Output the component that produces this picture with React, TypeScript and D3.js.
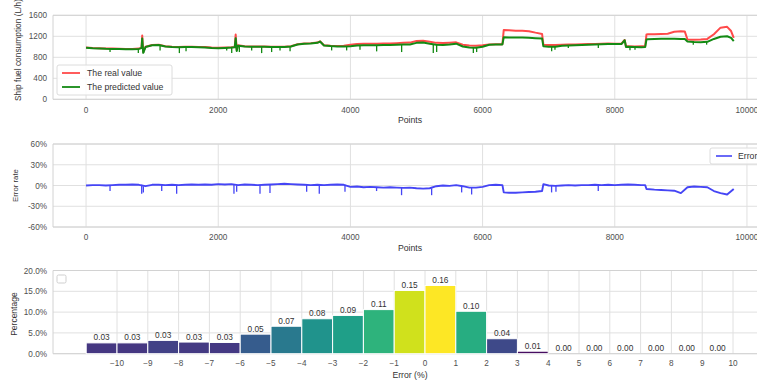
import React from 'react';
import * as d3 from 'd3';

const W = 757;
const H = 382;
const FONT = '"Liberation Sans", Arial, Helvetica, sans-serif';

// ---- Panel 1: ship fuel consumption (L/h) ----
const fuelIndex = [
  0, 100, 200, 300, 400, 500, 600, 700, 800, 840, 850, 865, 900,
  1000, 1100, 1200, 1300, 1400, 1500, 1600, 1700, 1800, 1900,
  2000, 2100, 2200, 2250, 2264, 2280, 2300, 2400, 2500, 2600, 2700, 2800, 2900,
  3000, 3100, 3200, 3300, 3400, 3500, 3540, 3600, 3700, 3800, 3900,
  4000, 4100, 4200, 4300, 4400, 4500, 4600, 4700, 4800, 4900,
  5000, 5100, 5200, 5300, 5400, 5500, 5600, 5700, 5800, 5900,
  6000, 6100, 6200, 6300, 6320, 6400, 6500, 6600, 6700, 6800, 6900, 6920,
  7000, 7100, 7200, 7300, 7400, 7500, 7600, 7700, 7800, 7900,
  8000, 8100, 8150, 8170, 8200, 8300, 8400, 8460, 8480, 8500, 8600, 8700, 8800, 8900,
  9000, 9060, 9100, 9200, 9300, 9400, 9500, 9600, 9700, 9760, 9800,
];
const realValue = [
  985, 975, 972, 968, 966, 962, 958, 960, 966, 985, 1215, 905, 1000,
  1035, 1040, 1010, 1000, 995, 1000, 1002, 998, 995, 985,
  980, 985, 990, 995, 1235, 940, 1030, 1010, 1005, 1008, 1005, 1000, 1002,
  1000, 1010, 1050, 1065, 1070, 1080, 1105, 1030, 1020, 1015, 1018,
  1040, 1055, 1060, 1060, 1058, 1065, 1062, 1070, 1075, 1080,
  1110, 1115, 1098, 1075, 1072, 1078, 1085, 1040, 1025, 1022,
  1030, 1045, 1048, 1050, 1320, 1315, 1305, 1308, 1298, 1270, 1245, 1040,
  1035, 1035, 1040, 1042, 1045, 1048, 1052, 1055, 1060, 1062,
  1060, 1058, 1130, 1005, 1010, 1008, 1010, 1012, 1235, 1238, 1240, 1245, 1250, 1285,
  1295, 1290, 1140, 1135, 1140, 1150, 1240, 1365, 1380, 1300, 1170,
];
const predictedValue = [
  980, 972, 968, 962, 960, 958, 952, 952, 960, 975, 1160, 885, 995,
  1030, 1035, 1005, 995, 990, 995, 997, 993, 988, 975,
  972, 978, 985, 990, 1165, 920, 1020, 1005, 1000, 1003, 1000, 995, 998,
  995, 1005, 1045, 1060, 1063, 1075, 1100, 1025, 1015, 1008, 1005,
  1010, 1025, 1028, 1030, 1028, 1035, 1032, 1038, 1042, 1045,
  1075, 1080, 1058, 1040, 1035, 1045, 1060, 1005, 985, 980,
  1000, 1040, 1042, 1045, 1180, 1178, 1175, 1176, 1172, 1165, 1160, 1010,
  1000, 1000, 1020, 1025, 1030, 1035, 1040, 1045, 1050, 1055,
  1055, 1052, 1125, 995, 1000, 995, 990, 995, 1140, 1145, 1150, 1152, 1155, 1152,
  1150, 1148, 1100, 1090, 1088, 1095, 1150, 1190, 1200, 1170, 1110,
];
// short downward dips of the predicted line
const predDipIndex = [363, 791, 882, 1120, 1412, 1513, 2128, 2204, 2320, 2506, 2657, 2808, 2935, 3087, 3716, 3943, 4145, 4397, 4775, 5254, 5305, 5860, 5910, 7045, 7095, 7297, 7751, 8230, 8306, 9188, 9390];
const predDipValue = [900, 880, 880, 931, 880, 913, 931, 880, 900, 931, 880, 900, 931, 913, 931, 931, 944, 913, 900, 880, 900, 880, 900, 913, 945, 977, 977, 932, 945, 1041, 1041];

// ---- Panel 2: error rate (%) ----
const errorIndex = [
  0, 100, 200, 300, 400, 500, 600, 700, 800, 900,
  1000, 1100, 1200, 1300, 1400, 1500, 1600, 1700, 1800, 1900,
  2000, 2100, 2200, 2300, 2400, 2500, 2600, 2700, 2800, 2900,
  3000, 3100, 3200, 3300, 3400, 3500, 3600, 3700, 3800, 3900,
  4000, 4100, 4200, 4300, 4400, 4500, 4600, 4700, 4800, 4900,
  5000, 5100, 5200, 5300, 5400, 5500, 5600, 5700, 5800, 5900,
  6000, 6100, 6200, 6300, 6320, 6400, 6500, 6600, 6700, 6800, 6900, 6920,
  7000, 7100, 7200, 7300, 7400, 7500, 7600, 7700, 7800, 7900,
  8000, 8100, 8200, 8300, 8400, 8460, 8480, 8600, 8700, 8800, 8900,
  9000, 9100, 9200, 9300, 9400, 9500, 9600, 9700, 9800,
];
const errorValue = [
  0, 0.5, 0.5, 0, 0.5, 1, 1, 1.5, 1, -1,
  1, 1, 0.5, 1, 0.5, 1, 1.5, 1, 1.5, 1,
  2, 1.5, 2, 0.5, 1.5, 1, 0.5, 1, 1.5, 2,
  2.5, 2, 1.5, 1, 0.5, 1, 0.5, 1, 1.5, 1,
  -2, -1.5, -2.5, -2, -2.5, -3, -2.5, -3, -3.5, -3,
  -4, -4.5, -4, -1, 0, -0.5, 0.5, -1, -3, -3,
  -2, 0.5, 1, 0.5, -10, -10.5, -10.5, -10, -9.5, -9, -8, 2,
  0, -0.5, 0, 0.5, 0, 0.5, 0.5, 1, 0.5, 1,
  0.5, 1, 1.5, 1, 0.5, 0.5, -5, -6, -6.5, -7, -7.5,
  -11, -2.5, -1.5, -2, -2.5, -8, -11, -13, -5,
];
const errDipIndex = [363, 842, 867, 1145, 1371, 2238, 2279, 2632, 2783, 3338, 3529, 3918, 4396, 4774, 5229, 5683, 5834, 7044, 7110, 7750];
const errDipValue = [-8, -12, -10, -8, -12, -12, -9, -12, -11, -9, -12, -9, -8, -14, -14, -10, -13, -10, -9, -8];

// ---- Panel 3: error histogram ----
const binStart = [-11, -10, -9, -8, -7, -6, -5, -4, -3, -2, -1, 0, 1, 2, 3, 4, 5, 6, 7, 8, 9];
const binShare = [0.026, 0.026, 0.032, 0.028, 0.027, 0.047, 0.066, 0.084, 0.092, 0.106, 0.152, 0.164, 0.102, 0.036, 0.006, 0, 0, 0, 0, 0, 0];

const pointTicks = [0, 2000, 4000, 6000, 8000, 10000];
const fuelTicks = [0, 400, 800, 1200, 1600];
const errTicks = [-60, -30, 0, 30, 60];
const binTicks = [-10, -9, -8, -7, -6, -5, -4, -3, -2, -1, 0, 1, 2, 3, 4, 5, 6, 7, 8, 9, 10];
const pctTicks = [0, 0.05, 0.1, 0.15, 0.2];

const GRID = '#e0e0e0';
const FRAME = '#d2d2d2';
const TICK = '#505050';

function nearest(idx: number[], vals: number[], p: number) {
  const i = d3.bisectCenter(idx, p);
  return vals[i];
}

export default function App() {
  const xPts = d3.scaleLinear().domain([-500, 10500]).range([53, 780]);
  const yFuel = d3.scaleLinear().domain([0, 1600]).range([99.3, 15.3]);
  const yErr = d3.scaleLinear().domain([-60, 60]).range([227, 144]);
  const xBin = d3.scaleLinear().domain([-10, 10]).range([117, 733]);
  const yPct = d3.scaleLinear().domain([0, 0.2]).range([353.7, 270.5]);

  const realPts = fuelIndex.map((p, i) => [p, realValue[i]] as [number, number]);
  const predPts = fuelIndex.map((p, i) => [p, predictedValue[i]] as [number, number]);
  const errPts = errorIndex.map((p, i) => [p, errorValue[i]] as [number, number]);

  const fuelLine = d3.line<[number, number]>().x(d => xPts(d[0])).y(d => yFuel(d[1]));
  const errLine = d3.line<[number, number]>().x(d => xPts(d[0])).y(d => yErr(d[1]));
  const maxShare = d3.max(binShare) as number;
  const fmtPct = d3.format('.1%');

  const xFrame0 = xPts(-500);
  const xFrame1 = 790;

  const panelFrame = (top: number, bottom: number, left: number) => (
    <g>
      <line x1={left} x2={xFrame1} y1={top} y2={top} stroke={FRAME} />
      <line x1={left} x2={xFrame1} y1={bottom} y2={bottom} stroke={FRAME} />
      <line x1={left} x2={left} y1={top} y2={bottom} stroke={FRAME} />
    </g>
  );

  return (
    <svg width={W} height={H} style={{ position: 'absolute', left: 0, top: 0, background: '#fff' }} fontFamily={FONT}>
      <rect x={0} y={0} width={W} height={H} fill="#fff" />

      {/* ===== Panel 1 ===== */}
      <g>
        {fuelTicks.map(t => (
          <line key={'fg' + t} x1={xFrame0} x2={xFrame1} y1={yFuel(t)} y2={yFuel(t)} stroke={GRID} />
        ))}
        {pointTicks.map(t => (
          <line key={'fv' + t} x1={xPts(t)} x2={xPts(t)} y1={yFuel(1600)} y2={yFuel(0)} stroke={GRID} />
        ))}
        {panelFrame(yFuel(1600), yFuel(0), xFrame0)}
        {fuelTicks.map(t => (
          <text key={'fl' + t} x={47} y={yFuel(t) + 3} textAnchor="end" fontSize={8.2} fill={TICK}>{t}</text>
        ))}
        {pointTicks.map(t => (
          <text key={'fx' + t} x={xPts(t)} y={113} textAnchor="middle" fontSize={8.2} fill={TICK}>{t}</text>
        ))}
        <text x={410} y={123} textAnchor="middle" fontSize={8.7} fill="#333">Points</text>
        <text transform={`translate(21,101) rotate(-90)`} textAnchor="start" fontSize={8.4} fill="#333">Ship fuel consumption (L/h)</text>

        <path d={fuelLine(realPts) as string} fill="none" stroke="#ff4a4a" strokeWidth={2} strokeLinejoin="round" />
        <path d={fuelLine(predPts) as string} fill="none" stroke="#138a13" strokeWidth={2} strokeLinejoin="round" />
        {predDipIndex.map((p, i) => (
          <line key={'pd' + i} x1={xPts(p)} x2={xPts(p)} y1={yFuel(nearest(fuelIndex, predictedValue, p))} y2={yFuel(predDipValue[i])} stroke="#138a13" strokeWidth={1.3} />
        ))}

        <rect x={57} y={65} width={115} height={30} rx={2} fill="#fff" fillOpacity={0.85} stroke="#dcdcdc" />
        <line x1={62} x2={80} y1={73} y2={73} stroke="#ff4a4a" strokeWidth={1.8} />
        <text x={87} y={76} fontSize={8.7} fill="#333">The real value</text>
        <line x1={62} x2={80} y1={87} y2={87} stroke="#138a13" strokeWidth={1.8} />
        <text x={87} y={90} fontSize={8.7} fill="#333">The predicted value</text>
      </g>

      {/* ===== Panel 2 ===== */}
      <g>
        {errTicks.map(t => (
          <line key={'eg' + t} x1={xFrame0} x2={xFrame1} y1={yErr(t)} y2={yErr(t)} stroke={GRID} />
        ))}
        {pointTicks.map(t => (
          <line key={'ev' + t} x1={xPts(t)} x2={xPts(t)} y1={yErr(60)} y2={yErr(-60)} stroke={GRID} />
        ))}
        {panelFrame(yErr(60), yErr(-60), xFrame0)}
        {errTicks.map(t => (
          <text key={'el' + t} x={47} y={yErr(t) + 3} textAnchor="end" fontSize={8.2} fill={TICK}>{t + '%'}</text>
        ))}
        {pointTicks.map(t => (
          <text key={'ex' + t} x={xPts(t)} y={240} textAnchor="middle" fontSize={8.2} fill={TICK}>{t}</text>
        ))}
        <text x={410} y={251} textAnchor="middle" fontSize={8.7} fill="#333">Points</text>
        <text transform={`translate(18,${yErr(0)}) rotate(-90)`} textAnchor="middle" fontSize={7.8} fill="#333">Error rate</text>

        <path d={errLine(errPts) as string} fill="none" stroke="#4545f5" strokeWidth={1.9} strokeLinejoin="round" />
        {errDipIndex.map((p, i) => (
          <line key={'ed' + i} x1={xPts(p)} x2={xPts(p)} y1={yErr(nearest(errorIndex, errorValue, p))} y2={yErr(errDipValue[i])} stroke="#4545f5" strokeWidth={1.3} />
        ))}

        <rect x={710} y={148} width={60} height={16} rx={2} fill="#fff" fillOpacity={0.85} stroke="#dcdcdc" />
        <line x1={716} x2={732} y1={156} y2={156} stroke="#4545f5" strokeWidth={1.6} />
        <text x={738} y={159} fontSize={8.7} fill="#333">Error</text>
      </g>

      {/* ===== Panel 3 ===== */}
      <g>
        {pctTicks.map(t => (
          <line key={'pg' + t} x1={53} x2={xFrame1} y1={yPct(t)} y2={yPct(t)} stroke={GRID} />
        ))}
        {binTicks.map(t => (
          <line key={'pv' + t} x1={xBin(t)} x2={xBin(t)} y1={yPct(0.2)} y2={yPct(0)} stroke={GRID} />
        ))}
        {panelFrame(yPct(0.2), yPct(0), 53)}
        {pctTicks.map(t => (
          <text key={'pl' + t} x={47} y={yPct(t) + 3} textAnchor="end" fontSize={8.2} fill={TICK}>{fmtPct(t)}</text>
        ))}
        {binTicks.map(t => (
          <text key={'px' + t} x={xBin(t)} y={366} textAnchor="middle" fontSize={8.2} fill={TICK}>{t < 0 ? '\u2212' + Math.abs(t) : String(t)}</text>
        ))}
        <text x={410} y={378} textAnchor="middle" fontSize={8.7} fill="#333">Error (%)</text>
        <text transform={`translate(17,${(yPct(0) + yPct(0.2)) / 2 + 2}) rotate(-90)`} textAnchor="middle" fontSize={8.5} fill="#333">Percentage</text>

        {binStart.map((b, i) => (
          <rect key={'b' + i} x={xBin(b)} y={yPct(binShare[i])} width={xBin(b + 1) - xBin(b)} height={yPct(0) - yPct(binShare[i])}
            fill={d3.interpolateViridis(binShare[i] / maxShare)} stroke="#fff" strokeWidth={1} />
        ))}
        {binStart.map((b, i) => (
          <text key={'bl' + i} x={(xBin(b) + xBin(b + 1)) / 2} y={yPct(binShare[i]) - 2.5} textAnchor="middle" fontSize={8.3} fill="#333">{binShare[i].toFixed(2)}</text>
        ))}

        <rect x={57} y={275} width={9} height={8} rx={1.5} fill="#fff" stroke="#cfcfcf" />
      </g>
    </svg>
  );
}
